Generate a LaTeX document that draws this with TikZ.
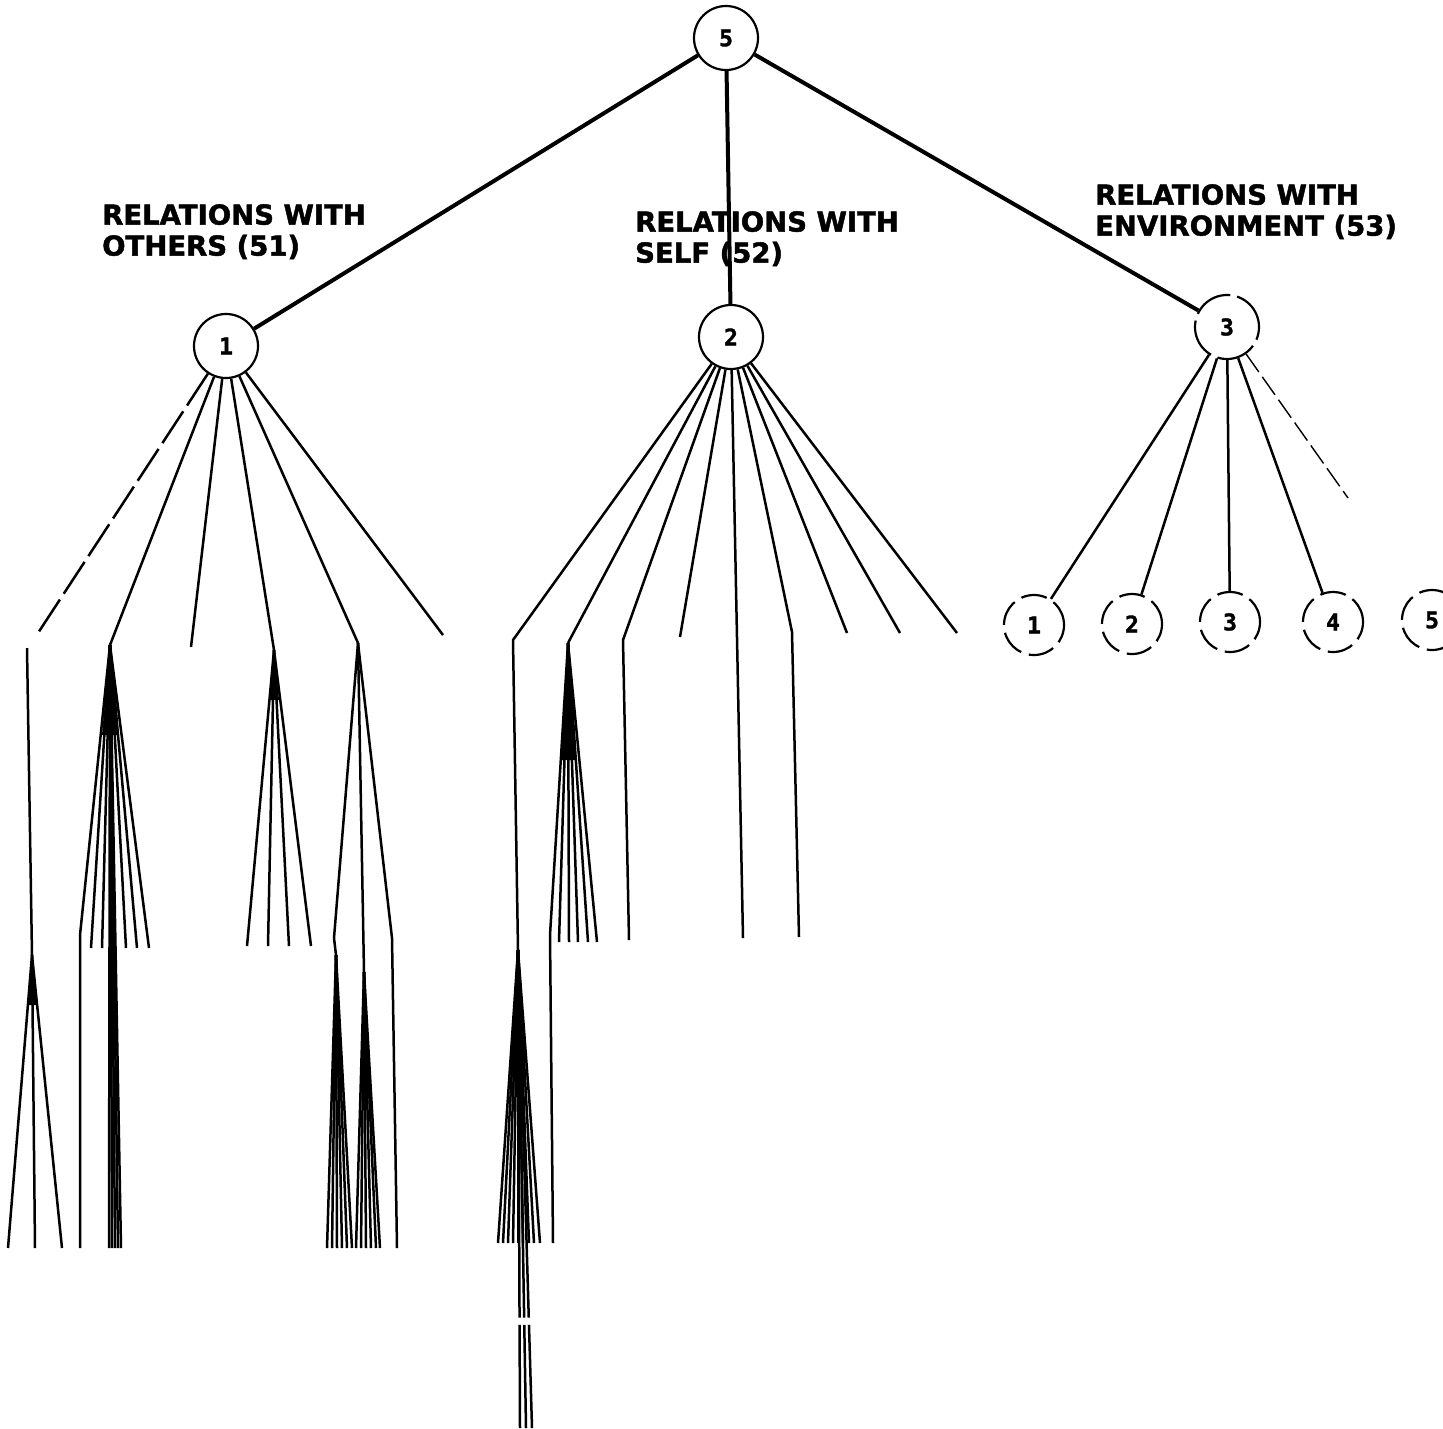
\documentclass[tikz,border=0pt]{standalone}
\usepackage{fontspec}
\newfontfamily\lblfont{DejaVu Sans}[BoldFeatures={FakeBold=1.6}]
\newfontfamily\numfont{DejaVu Sans Mono}[BoldFeatures={FakeBold=1.5}]
\usetikzlibrary{calc}
\begin{document}
\begin{tikzpicture}[x=1pt,y=-1pt,
  ln/.style={line width=2.5pt, line join=round},
  thk/.style={line width=4pt},
  circ/.style={circle, draw, line width=2.2pt, minimum size=64pt, inner sep=0pt,
    font=\numfont\bfseries\fontsize{23}{23}\selectfont},
  dcirc/.style={circ, minimum size=60pt, dash pattern=on 26pt off 8pt},
  lbl/.style={anchor=north west, inner sep=0pt, align=left,
    font=\lblfont\bfseries\fontsize{27.5}{31}\selectfont}]
\useasboundingbox[fill=white] (0,0) rectangle (1443,1428);

% main nodes
\node[circ] (n5) at (726,38) {5};
\node[circ] (n1) at (226,346) {1};
\node[circ] (n2) at (731,337) {2};
\node[circ, dash pattern=on 40pt off 7pt] (n3) at (1227,327) {3};

% environment children
\node[dcirc] (c1) at (1034,625) {1};
\node[dcirc] (c2) at (1132,624) {2};
\node[dcirc] (c3) at (1230,622) {3};
\node[dcirc] (c4) at (1333,622) {4};
\node[dcirc] (c5) at (1432,620) {5};

% labels
\node[lbl] (l51) at (102,204) {RELATIONS WITH\\OTHERS (51)};
\node[lbl] (l52) at (635,211) {RELATIONS WITH\\SELF (52)};
\node[lbl] (l53) at (1095,184) {RELATIONS WITH\\ENVIRONMENT (53)};

% top edges
\draw[thk] (n5) -- (n1);
\draw[thk] (n5) -- (n2);
\draw[thk] (n5) -- (n3);

% ---------- children of node 1 ----------
\coordinate (a11) at (38,633);
\coordinate (s11) at (27,648);
\coordinate (q11) at (32,955);
\draw[ln, dash pattern=on 38pt off 7pt] (n1) -- (a11);
\draw[ln] (s11) -- (q11);
\foreach \x in {8,35,62} \draw[ln] (q11) -- (\x,1248);
\fill (q11) -- (27.5,1005) -- (37,1005) -- cycle;

\coordinate (p12) at (110,645);
\draw[ln] (n1) -- (p12);
\foreach \x in {91,102,126,137,149} \draw[ln] (p12) -- (\x,948);
\draw[ln] (p12) -- (80,935) -- (80,1248);
\foreach \x in {109,112,115,118,121} \draw[ln] (p12) -- (\x,1248);
\fill (p12) -- (102,735) -- (119,735) -- cycle;

\coordinate (p13) at (191,647);
\draw[ln] (n1) -- (p13);

\coordinate (p14) at (274,650);
\draw[ln] (n1) -- (p14);
\foreach \x in {247,268,289,311} \draw[ln] (p14) -- (\x,946);
\fill (p14) -- (269,700) -- (279,700) -- cycle;

\coordinate (p15) at (358,643);
\coordinate (q15a) at (336,955);
\coordinate (q15b) at (364,972);
\draw[ln] (n1) -- (p15);
\draw[ln] (p15) -- (334,938) -- (q15a);
\foreach \x in {327,332,337,342,347,352} \draw[ln] (q15a) -- (\x,1248);
\draw[ln] (p15) -- (q15b);
\foreach \x in {356,361,366,371,376,380} \draw[ln] (q15b) -- (\x,1248);
\draw[ln] (p15) -- (392,938) -- (397,1248);

\coordinate (p16) at (443,635);
\draw[ln] (n1) -- (p16);

% ---------- children of node 2 ----------
\coordinate (p21) at (513,640);
\coordinate (q21) at (518,950);
\draw[ln] (n2) -- (p21) -- (q21);
\foreach \x in {498,503,508,513,518,523,529,534,540} \draw[ln] (q21) -- (\x,1243);
\foreach \x in {520,526,532} {
  \draw[ln] (q21) -- ($(q21)!0.769!(\x,1428)$);
  \draw[ln] ($(q21)!0.784!(\x,1428)$) -- (\x,1428);
}

\coordinate (p22) at (568,643);
\draw[ln] (n2) -- (p22);
\foreach \x in {559,569,578,588,597} \draw[ln] (p22) -- (\x,942);
\draw[ln] (p22) -- (550,935) -- (553,1243);
\fill (p22) -- (561,760) -- (576,760) -- cycle;

\draw[ln] (n2) -- (623,640) -- (629,940);
\draw[ln] (n2) -- (680,637);
\draw[ln] (n2) -- (743,938);
\draw[ln] (n2) -- (792,632) -- (799,937);
\draw[ln] (n2) -- (847,633);
\draw[ln] (n2) -- (900,633);
\draw[ln] (n2) -- (957,633);

% ---------- children of node 3 ----------
\draw[ln] (n3) -- (c1);
\draw[ln] (n3) -- (c2);
\draw[ln] (n3) -- (c3);
\draw[ln] (n3) -- (c4);
\coordinate (e5) at (1348,498);
\draw[line width=1.4pt, dash pattern=on 22pt off 6pt] (n3) -- (e5);
\end{tikzpicture}
\end{document}
